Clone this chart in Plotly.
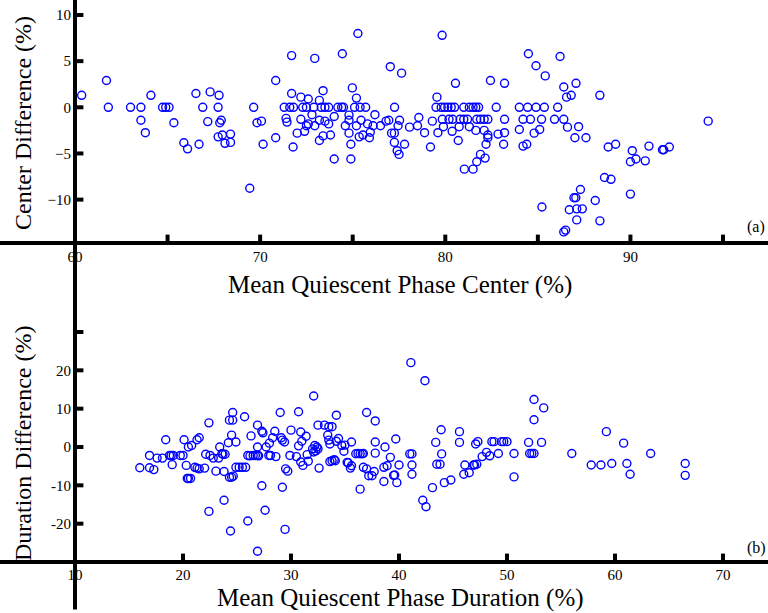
import plotly.graph_objects as go

# ---- Panel (a): Mean Quiescent Phase Center vs Center Difference ----
center_x = [60.36, 61.7, 61.8, 63.0, 63.56, 63.56, 63.8, 64.1, 64.73, 64.9, 65.08, 65.34, 65.88, 66.08, 66.53, 66.7, 66.9, 67.17, 67.3, 67.73,
            67.78, 67.82, 67.73, 67.9, 67.96, 68.1, 68.4, 68.4, 69.65, 69.44, 69.83, 70.07, 70.16, 70.84, 70.84, 71.7, 71.7, 71.78, 71.3, 71.6,
            71.8, 71.4, 71.45, 72.0, 72.2, 72.3, 72.5, 72.6, 72.2, 72.4, 72.5, 72.6, 72.95, 72.9, 72.8, 72.95, 73.2, 73.2, 73.2, 73.4,
            73.3, 73.5, 73.7, 73.4, 73.5, 73.7, 73.8, 74.0, 74.0, 74.2, 74.4, 74.5, 74.44, 74.6, 74.8, 74.9, 74.8, 74.8, 74.9, 74.98,
            75.2, 75.1, 75.4, 75.7, 75.28, 75.2, 75.35, 75.45, 75.55, 75.8, 75.9, 75.95, 76.1, 76.2, 76.5, 76.8, 77.03, 77.64, 77.26, 76.95,
            77.53, 77.45, 77.1, 77.25, 77.25, 77.8, 77.4, 77.5, 78.07, 78.57, 78.5, 78.88, 79.2, 79.3, 79.55, 79.5, 79.83, 79.6, 79.84, 79.9,
            79.78, 79.96, 80.14, 80.32, 80.5, 80.2, 80.4, 80.37, 80.55, 80.75, 80.7, 80.8, 81.0, 81.2, 81.0, 81.3, 81.5, 81.65, 81.8, 81.03,
            81.5, 81.3, 81.65, 81.7, 81.9, 82.1, 82.3, 81.9, 81.7, 82.15, 82.1, 82.3, 82.2, 82.3, 82.44, 82.75, 82.85, 83.15, 83.2, 83.2,
            83.2, 84.0, 84.45, 84.9, 85.35, 84.0, 84.2, 84.6, 85.2, 84.2, 84.4, 84.49, 84.9, 85.4, 84.8, 85.1, 85.22, 85.9, 86.07, 86.2,
            86.4, 86.55, 86.8, 87.06, 86.4, 86.6, 87.0, 87.2, 87.6, 88.35, 88.8, 89.2, 88.6, 88.95, 90.1, 90.0, 90.3, 90.8, 91.0, 91.73,
            91.8, 92.1, 94.2, 90.0, 87.3, 87.05, 86.95, 88.1, 86.7, 87.1, 87.4, 87.1, 88.35, 86.4, 86.5]
center_diff = [1.3, 2.9, 0, 0, 0, -1.4, -2.75, 1.3, 0, 0, 0, -1.67, -3.84, -4.5, 1.49, -4.0, 0, -1.55, 1.67, 0,
               1.3, -1.67, -3.2, -1.4, -3.0, -3.9, -2.9, -3.8, 0, -8.77, -1.67, -1.5, -4.0, 2.9, -3.3, 5.6, 1.5, -4.3, 0, 0,
               0, -1.2, -1.6, -2.8, 1.1, 0, 0, 0.9, -1.3, -2.6, -2.0, -1.8, 5.3, 0, -0.8, -2.0, 0.75, -1.4, -3.6, 1.8,
               0, 0, 0, -3.1, -1.5, -1.8, -3.0, -1.0, -5.6, 0, 0, 0, 5.8, -2.0, -2.8, -4.0, -0.85, -1.4, -5.6, 2.1,
               1.0, 0, 0, 0, 8.0, -2.0, -3.2, -1.4, -3.0, -1.8, -3.3, -2.7, -2.0, -0.8, -2.0, -1.5, 4.4, 3.7, 0, -1.4,
               -1.4, -2.0, -2.8, -2.8, -3.8, -4.0, -4.7, -5.1, -2.15, -1.1, -2.0, -2.75, -4.3, -1.5, 1.1, 0, 7.8, -2.75, -1.3, -2.1,
               0, 0, 0, 0, 0, -1.3, -1.3, -2.6, 2.6, -2.1, -3.6, -1.3, -1.3, -1.3, 0, 0, 0, 0, 0, -6.7,
               -6.7, -2.1, -2.5, -1.3, -1.3, -1.3, -1.3, -5.1, -5.9, -5.5, -2.5, -3.3, -4.0, -3.0, 2.9, 0, -2.9, -4.0, 2.6, -1.3,
               -2.75, 0, 0, 0, 0, -2.4, -1.3, -1.3, -1.3, -4.2, -4.0, 5.8, 4.5, 3.4, -2.8, -2.4, -10.8, -1.3, 0, 5.5,
               2.2, 1.1, 1.3, 2.6, -1.3, -2.15, -3.3, -2.1, -3.3, 1.3, -4.3, -4.0, -7.6, -7.8, -4.7, -5.9, -5.6, -5.8, -4.2, -4.6,
               -4.6, -4.3, -1.5, -9.4, -8.9, -9.8, -9.8, -10.1, -11.1, -11.0, -11.0, -12.2, -12.3, -13.5, -13.3]

# ---- Panel (b): Mean Quiescent Phase Duration vs Duration Difference ----
duration_x = [16.0, 16.9, 16.9, 17.3, 17.6, 18.1, 18.4, 18.75, 18.9, 19.1, 19.0, 19.75, 20.0, 20.1, 20.3, 20.4, 20.5, 20.7, 20.5, 20.8,
              21.1, 21.3, 21.5, 21.3, 21.5, 22.0, 22.1, 22.4, 22.4, 22.5, 22.8, 23.05, 23.3, 23.4, 23.6, 23.8, 23.7, 23.9, 23.8, 24.2,
              24.3, 24.6, 24.6, 24.5, 24.3, 24.5, 24.65, 24.4, 24.9, 24.9, 25.2, 25.5, 25.8, 25.7, 26.0, 26.0, 26.3, 26.5, 26.7, 26.9,
              26.9, 26.9, 27.3, 27.4, 27.3, 26.9, 27.6, 27.7, 27.95, 28.1, 28.3, 28.5, 28.6, 29.0, 29.1, 29.2, 29.4, 29.2, 29.45, 29.5,
              29.7, 30.0, 29.9, 30.7, 30.7, 30.9, 30.9, 31.1, 31.4, 31.6, 32.1, 32.2, 32.4, 32.1, 32.5, 32.6, 33.1, 33.5, 33.8, 33.4,
              33.5, 33.6, 34.0, 34.2, 34.4, 34.7, 34.9, 35.3, 35.5, 35.6, 36.0, 36.4, 36.6, 36.4, 37.0, 36.7, 37.0, 37.2, 37.8, 37.8,
              37.8, 37.7, 38.6, 38.6, 38.7, 39.7, 38.9, 39.2, 39.5, 39.8, 39.6, 40.0, 41.1, 42.4, 41.0, 41.2, 41.2, 41.2, 42.2, 42.5,
              43.1, 43.4, 43.9, 43.5, 43.8, 43.95, 44.2, 44.8, 45.6, 45.6, 46.0, 46.1, 46.5, 46.9, 47.0, 47.2, 47.1, 47.3, 47.7, 48.1,
              48.4, 48.6, 48.8, 49.2, 49.5, 49.7, 50.0, 50.65, 50.65, 52.0, 52.1, 52.3, 52.5, 52.5, 53.4, 52.5, 53.2, 56.0, 57.8, 58.7,
              59.7, 59.2, 60.8, 61.1, 61.4, 63.3, 66.5, 66.5, 26.2, 27.0, 33.6, 34.2, 35.0, 33.8, 34.1, 35.2, 35.6, 36.2, 36.7, 37.5,
              31.0, 32.5, 28.0, 30.5, 31.5, 32.0, 32.3]
duration_diff = [-5.4, -2.2, -5.4, -5.9, -2.9, -2.9, 1.9, -2.2, -2.2, -2.2, -4.6, -2.2, -2.2, 1.9, -4.8, -8.2, -8.2, -8.2, 0, 0.4,
                 -5.3, -5.5, -5.7, 1.9, 2.4, -5.5, -1.9, 6.3, -16.8, -2.2, -2.9, -6.3, -2.9, 0, -1.75, -13.9, -1.9, -1.9, -6.4, 1.1,
                 7.0, 7.0, 9.0, 3.1, -7.9, -7.9, -7.6, -21.9, 1.3, -5.3, -5.3, -5.3, -5.3, 7.9, -19.3, -2.2, 2.9, -2.2, -2.2, -2.2,
                 5.7, 0, 4.1, 3.7, -10.1, -27.2, -16.5, 0, -2.2, -2.2, 2.4, 4.1, -2.5, 9.0, 2.4, 1.8, 1.3, -10.5, -21.5, -5.7,
                 -6.3, 4.4, -2.2, 9.2, 0.3, 3.9, -3.9, -4.8, 2.8, -3.7, 13.3, 0.4, 0, -1.3, 5.7, -5.5, 5.7, 5.3, 5.3, 3.1,
                 1.8, -3.8, -3.3, 8.3, 2.2, 0.4, -1.1, -4.1, -5.5, 1.3, -1.75, -1.75, -1.75, -11.0, 9.0, -5.3, -5.7, -7.5, 6.8, 1.3,
                 -1.6, -6.4, -9.0, -5.3, 0, 2.1, -4.9, -2.7, -7.4, -9.3, -7.3, -4.7, 22.0, 17.3, -1.8, -1.8, -4.7, -7.1, -13.9, -15.6,
                 -10.6, 1.2, 4.5, -4.5, -4.5, -1.8, -9.3, -8.6, 4.0, 1.2, -7.1, -4.7, -6.7, -4.7, -4.7, -4.5, 0.8, 1.4, -2.5, -1.4,
                 -2.3, 1.4, 1.4, -1.7, 1.4, 1.4, 1.4, -1.7, -7.8, 1.2, -1.7, -1.7, -1.7, 12.4, 10.2, 7.1, 1.2, -1.7, -4.7, -4.7,
                 -4.3, 4.0, 1.0, -4.3, -7.1, -1.7, -4.3, -7.4, -2.3, -2.3, 0.8, 1.5, 0.5, -3.6, -3.6, -4.0, -4.9, -1.7, -1.7, -7.5,
                 1.5, -0.5, 1.0, -2.5, -2.0, -0.5, -1.0]

top_xrange = [60, 95]
top_yrange = [-14.7, 10]
bot_xrange = [10, 70]
bot_yrange = [-30, 30]
top_xticks = [60, 65, 70, 75, 80, 85, 90, 95]
top_xlabels = ["60", "", "70", "", "80", "", "90", ""]
top_yticks = [-10, -5, 0, 5, 10]
bot_xticks = [10, 20, 30, 40, 50, 60, 70]
bot_yticks = [-30, -20, -10, 0, 10, 20, 30]
bot_ylabels = ["", "-20", "-10", "0", "10", "20", ""]

FONT = "Liberation Serif"
BLUE = "#0000ff"
BLACK = "#000000"

# plot-area geometry (pixels) of the axes box
W, H = 768, 613
PX_L, PX_R = 75, 723
TOP_T, TOP_B = 15, 243
BOT_T, BOT_B = 332, 562
TICK_PX = 7
LINE_W = 4

marker = dict(symbol="circle-open", size=8, color=BLUE, line=dict(width=1.4, color=BLUE))

fig = go.Figure()
fig.add_trace(go.Scatter(x=center_x, y=center_diff, mode="markers", marker=marker,
                         xaxis="x", yaxis="y", showlegend=False, cliponaxis=False, hoverinfo="x+y"))
fig.add_trace(go.Scatter(x=duration_x, y=duration_diff, mode="markers", marker=marker,
                         xaxis="x2", yaxis="y2", showlegend=False, cliponaxis=False, hoverinfo="x+y"))


def axis_frame(xa, ya, xr, yr, xticks, yticks, top, bot):
    """MATLAB-style left/bottom axis lines with inward ticks, drawn with line-shaped markers
    (markers render reliably here; they are sized in pixels and positioned on the data axes)."""
    h_px = bot - top
    w_px = PX_R - PX_L
    ky = (yr[1] - yr[0]) / h_px   # data units per pixel
    kx = (xr[1] - xr[0]) / w_px
    common = dict(mode="markers", xaxis=xa, yaxis=ya, showlegend=False, hoverinfo="skip",
                  cliponaxis=False)
    # horizontal bottom axis line (one long 'line-ew' marker at the middle of the axis)
    fig.add_trace(go.Scatter(x=[(xr[0] + xr[1]) / 2], y=[yr[0]],
                             marker=dict(symbol="line-ew", size=w_px + LINE_W,
                                         line=dict(width=LINE_W, color=BLACK)), **common))
    # vertical left axis line
    fig.add_trace(go.Scatter(x=[xr[0]], y=[(yr[0] + yr[1]) / 2],
                             marker=dict(symbol="line-ns", size=h_px + LINE_W / 2,
                                         line=dict(width=LINE_W, color=BLACK)), **common))
    # inward ticks on the x axis
    fig.add_trace(go.Scatter(x=xticks, y=[yr[0] + TICK_PX / 2 * ky] * len(xticks),
                             marker=dict(symbol="line-ns", size=TICK_PX,
                                         line=dict(width=LINE_W, color=BLACK)), **common))
    # inward ticks on the y axis
    fig.add_trace(go.Scatter(x=[xr[0] + TICK_PX / 2 * kx] * len(yticks), y=yticks,
                             marker=dict(symbol="line-ew", size=TICK_PX,
                                         line=dict(width=LINE_W, color=BLACK)), **common))


axis_frame("x", "y", top_xrange, top_yrange, top_xticks, top_yticks, TOP_T, TOP_B)
axis_frame("x2", "y2", bot_xrange, bot_yrange, bot_xticks, bot_yticks, BOT_T, BOT_B)


def axis_style(**kw):
    d = dict(showline=False, ticks="", showgrid=False, zeroline=False,
             tickfont=dict(family=FONT, size=15, color=BLACK))
    d.update(kw)
    return d


title_font_x = dict(family=FONT, size=25, color=BLACK)
title_font_y = dict(family=FONT, size=24, color=BLACK)
x0, x1 = PX_L / W, PX_R / W
fig.update_layout(
    template="none",
    width=W, height=H, margin=dict(l=0, r=0, t=0, b=0),
    paper_bgcolor="white", plot_bgcolor="white",
    font=dict(family=FONT, color=BLACK),
    xaxis=axis_style(domain=[x0, x1], range=top_xrange, anchor="y",
                     tickmode="array", tickvals=top_xticks, ticktext=top_xlabels, ticklabelstandoff=3),
    yaxis=axis_style(domain=[1 - TOP_B / H, 1 - TOP_T / H], range=top_yrange, anchor="x",
                     tickmode="array", tickvals=top_yticks, ticklabelstandoff=3),
    xaxis2=axis_style(domain=[x0, x1], range=bot_xrange, anchor="y2",
                      tickmode="array", tickvals=bot_xticks, ticklabelstandoff=2),
    yaxis2=axis_style(domain=[1 - BOT_B / H, 1 - BOT_T / H], range=bot_yrange, anchor="x2",
                      tickmode="array", tickvals=bot_yticks, ticktext=bot_ylabels, ticklabelstandoff=3),
    annotations=[
        dict(text="Mean Quiescent Phase Center (%)", x=400 / W, y=1 - 285 / H, xref="paper", yref="paper",
             showarrow=False, font=title_font_x, xanchor="center", yanchor="middle"),
        dict(text="Mean Quiescent Phase Duration (%)", x=400 / W, y=0, xref="paper", yref="paper",
             showarrow=False, font=title_font_x, xanchor="center", yanchor="bottom", borderpad=0),
        dict(text="Center Difference (%)", x=23 / W, y=1 - 123 / H, xref="paper", yref="paper",
             showarrow=False, font=title_font_y, textangle=-90, xanchor="center", yanchor="middle"),
        dict(text="Duration Difference (%)", x=23 / W, y=1 - 444 / H, xref="paper", yref="paper",
             showarrow=False, font=title_font_y, textangle=-90, xanchor="center", yanchor="middle"),
        dict(text="(a)", x=756 / W, y=1 - 227 / H, xref="paper", yref="paper", showarrow=False,
             font=dict(family=FONT, size=16, color=BLACK), xanchor="center", yanchor="middle"),
        dict(text="(b)", x=756 / W, y=1 - 548 / H, xref="paper", yref="paper", showarrow=False,
             font=dict(family=FONT, size=16, color=BLACK), xanchor="center", yanchor="middle"),
    ],
)

fig.write_html("out.html")
